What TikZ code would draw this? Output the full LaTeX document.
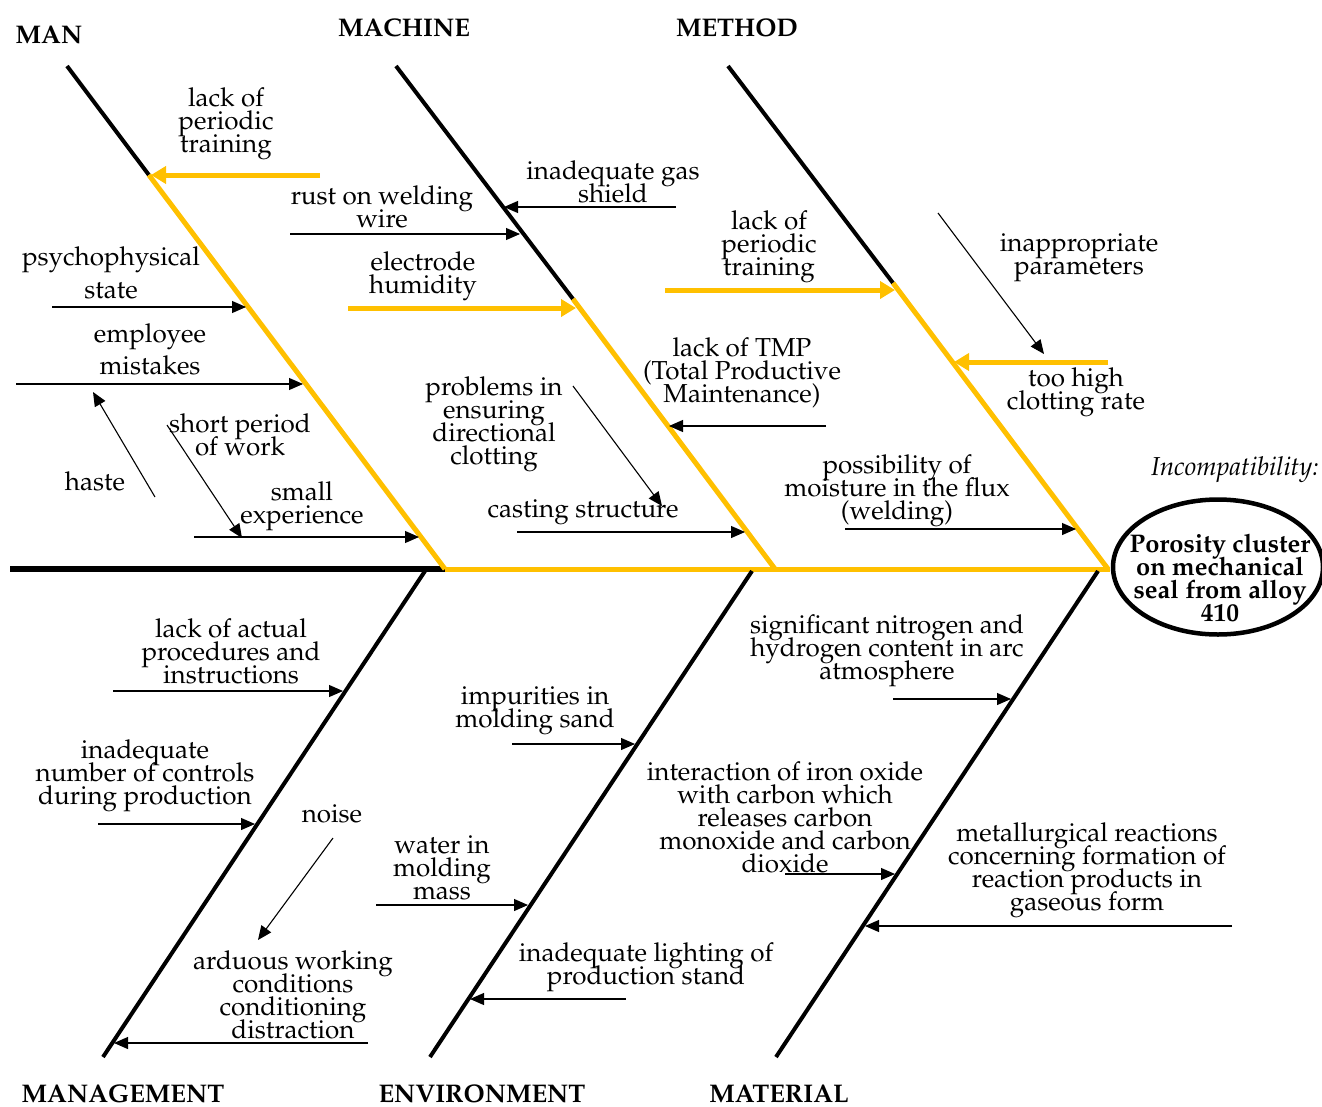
\documentclass[tikz,border=0pt]{standalone}
\IfFileExists{mathpazo.sty}{\usepackage[T1]{fontenc}\usepackage{mathpazo}\def\fsz{26}\def\hsz{25.5}}{\usepackage{fontspec}\setmainfont{Liberation Serif}\def\fsz{28}\def\hsz{27.5}}
\usetikzlibrary{arrows.meta,shapes.geometric}
\definecolor{gold}{RGB}{255,192,0}
\newcommand\tightls{\lineskiplimit=-100pt\relax}
\begin{document}
\begin{tikzpicture}[x=1pt,y=-1pt,
  lbl/.style={align=center, font=\fontsize{\fsz}{23}\selectfont\tightls, inner sep=0pt},
  head/.style={font=\fontsize{\hsz}{24}\selectfont\bfseries, inner sep=0pt},
  bhead/.style={head, anchor=base, text depth=0pt},
  ca/.style={line width=1.1pt, -{Triangle[length=14pt,width=12pt]}},
  ya/.style={line width=5pt, draw=gold, -{Triangle[length=15pt,width=17pt]}},
  bone/.style={line width=4pt},
  ybone/.style={line width=5pt, draw=gold},
]
\useasboundingbox (0,0) rectangle (1322,1106);
% spine
\coordinate (sp0) at (10,569);
\coordinate (sp1) at (445,569);
\coordinate (sp2) at (1110,569);
\draw[line width=5.5pt] (sp0) -- (sp1);
\draw[ybone] (sp1) -- (sp2);
% effect
\node[ellipse, draw, line width=4.5pt, minimum width=210pt, minimum height=135pt] (effect) at (1218,567) {};
\node[font=\fontsize{\hsz}{23}\selectfont\bfseries\tightls, align=center, inner sep=0pt] (efftext) at (1220,578) {Porosity cluster\\on mechanical\\seal from alloy\\410};
\node[lbl, font=\fontsize{\fsz}{23}\selectfont\itshape] (incomp) at (1235,470) {Incompatibility:};
% top bones
\coordinate (manT) at (67,66);   \coordinate (manJ) at (148.9,175); \coordinate (manB) at (445,569);
\coordinate (macT) at (396,66);  \coordinate (macJ) at (573,299);   \coordinate (macB) at (775,569);
\coordinate (metT) at (728,66);  \coordinate (metJ) at (893,283);   \coordinate (metB) at (1108,569);
\draw[bone] (manT) -- (manJ); \draw[ybone] (manJ) -- (manB);
\draw[bone] (macT) -- (macJ); \draw[ybone] (macJ) -- (macB);
\draw[bone] (metT) -- (metJ); \draw[ybone] (metJ) -- (metB);
% bottom bones
\coordinate (mgT) at (425,571);  \coordinate (mgB) at (103,1057);
\coordinate (enT) at (752,571);  \coordinate (enB) at (430,1057);
\coordinate (maT) at (1098,571); \coordinate (maB) at (776,1057);
\draw[bone] (mgT) -- (mgB);
\draw[bone] (enT) -- (enB);
\draw[bone] (maT) -- (maB);
% headings
\node[head] (hMan) at (49,35) {MAN};
\node[head] (hMac) at (404,28) {MACHINE};
\node[head] (hMet) at (737,28) {METHOD};
\node[bhead] (hMg) at (123,1102) {MANAGEMENT};
\node[bhead] (hEn) at (482,1102) {ENVIRONMENT};
\node[bhead] (hMa) at (779,1102) {MATERIAL};
% ---------- MAN ----------
\node[lbl] (l1) at (226,124) {lack of\\periodic\\training};
\coordinate (a1s) at (320,175); \coordinate (a1e) at (151,175);
\draw[ya] (a1s) -- (a1e);
\node[lbl] (l2) at (111,273) {psychophysical\\[10pt]state};
\coordinate (a2s) at (52,307); \coordinate (a2e) at (246,307);
\draw[ca] (a2s) -- (a2e);
\node[lbl] (l3) at (150,349) {employee\\[9pt]mistakes};
\coordinate (a3s) at (16,384); \coordinate (a3e) at (303,384);
\draw[ca] (a3s) -- (a3e);
\node[lbl] (l4) at (95,481) {haste};
\coordinate (a4s) at (155,497); \coordinate (a4e) at (93,392);
\draw[ca] (a4s) -- (a4e);
\node[lbl] (l5) at (240,435) {short period\\of work};
\coordinate (a5s) at (167,425); \coordinate (a5e) at (242,538);
\draw[ca] (a5s) -- (a5e);
\node[lbl] (l6) at (302,506) {small\\experience};
\coordinate (a6s) at (194,537); \coordinate (a6e) at (419,537);
\draw[ca] (a6s) -- (a6e);
% ---------- MACHINE ----------
\node[lbl] (l7) at (382,207) {rust on welding\\wire};
\coordinate (a7s) at (290,234); \coordinate (a7e) at (520,234);
\draw[ca] (a7s) -- (a7e);
\node[lbl] (l8) at (613,182) {inadequate gas\\shield};
\coordinate (a8s) at (676,207); \coordinate (a8e) at (504,207);
\draw[ca] (a8s) -- (a8e);
\node[lbl] (l9) at (423,276) {electrode\\humidity};
\coordinate (a9s) at (348,308); \coordinate (a9e) at (576,308);
\draw[ya] (a9s) -- (a9e);
\node[lbl] (l10) at (742,373) {lack of TMP\\(Total Productive\\Maintenance)};
\coordinate (a10s) at (826,426); \coordinate (a10e) at (669,426);
\draw[ca] (a10s) -- (a10e);
\node[lbl] (l11) at (494,424) {problems in\\ensuring\\directional\\clotting};
\coordinate (a11s) at (573,386); \coordinate (a11e) at (662,506);
\draw[ca] (a11s) -- (a11e);
\node[lbl] (l12) at (583,512) {casting structure};
\coordinate (a12s) at (517,532); \coordinate (a12e) at (745,532);
\draw[ca] (a12s) -- (a12e);
% ---------- METHOD ----------
\node[lbl] (l13) at (769,247) {lack of\\periodic\\training};
\coordinate (a13s) at (665,290); \coordinate (a13e) at (895,290);
\draw[ya] (a13s) -- (a13e);
\node[lbl] (l14) at (1079,258) {inappropriate\\parameters};
\coordinate (a14s) at (938,213); \coordinate (a14e) at (1044,354);
\draw[ca] (a14s) -- (a14e);
\node[lbl] (l15) at (1076,392) {too high\\clotting rate};
\coordinate (a15s) at (1108,362); \coordinate (a15e) at (954,362);
\draw[ya] (a15s) -- (a15e);
\node[lbl] (l16) at (897,491) {possibility of\\moisture in the flux\\(welding)};
\coordinate (a16s) at (845,529); \coordinate (a16e) at (1076,529);
\draw[ca] (a16s) -- (a16e);
% ---------- MANAGEMENT ----------
\node[lbl] (l17) at (231,651) {lack of actual\\procedures and\\instructions};
\coordinate (a17s) at (113,691); \coordinate (a17e) at (343,691);
\draw[ca] (a17s) -- (a17e);
\node[lbl] (l18) at (145,776) {inadequate\\number of controls\\during production};
\coordinate (a18s) at (98,824); \coordinate (a18e) at (255,824);
\draw[ca] (a18s) -- (a18e);
\node[lbl] (l19) at (332,814) {noise};
\coordinate (a19s) at (333,838); \coordinate (a19e) at (258,940);
\draw[ca] (a19s) -- (a19e);
\node[lbl] (l20) at (293,995) {arduous working\\conditions\\conditioning\\distraction};
\coordinate (a20s) at (368,1043); \coordinate (a20e) at (114,1043);
\draw[ca] (a20s) -- (a20e);
% ---------- ENVIRONMENT ----------
\node[lbl] (l21) at (535,711) {impurities in\\molding sand};
\coordinate (a21s) at (512,744); \coordinate (a21e) at (635,744);
\draw[ca] (a21s) -- (a21e);
\node[lbl] (l22) at (442,868) {water in\\molding\\mass};
\coordinate (a22s) at (376,905); \coordinate (a22e) at (528,905);
\draw[ca] (a22s) -- (a22e);
\node[lbl] (l23) at (646,967) {inadequate lighting of\\production stand};
\coordinate (a23s) at (626,999); \coordinate (a23e) at (470,999);
\draw[ca] (a23s) -- (a23e);
% ---------- MATERIAL ----------
\node[lbl] (l24) at (887,651) {significant nitrogen and\\hydrogen content in arc\\atmosphere};
\coordinate (a24s) at (893,699); \coordinate (a24e) at (1011,699);
\draw[ca] (a24s) -- (a24e);
\node[lbl] (l25) at (785,817) {interaction of iron oxide\\with carbon which\\releases carbon\\monoxide and carbon\\dioxide};
\coordinate (a25s) at (785,874); \coordinate (a25e) at (895,874);
\draw[ca] (a25s) -- (a25e);
\node[lbl] (l26) at (1087,870) {metallurgical reactions\\concerning formation of\\reaction products in\\gaseous form};
\coordinate (a26s) at (1232,926); \coordinate (a26e) at (865,926);
\draw[ca] (a26s) -- (a26e);
\end{tikzpicture}
\end{document}
